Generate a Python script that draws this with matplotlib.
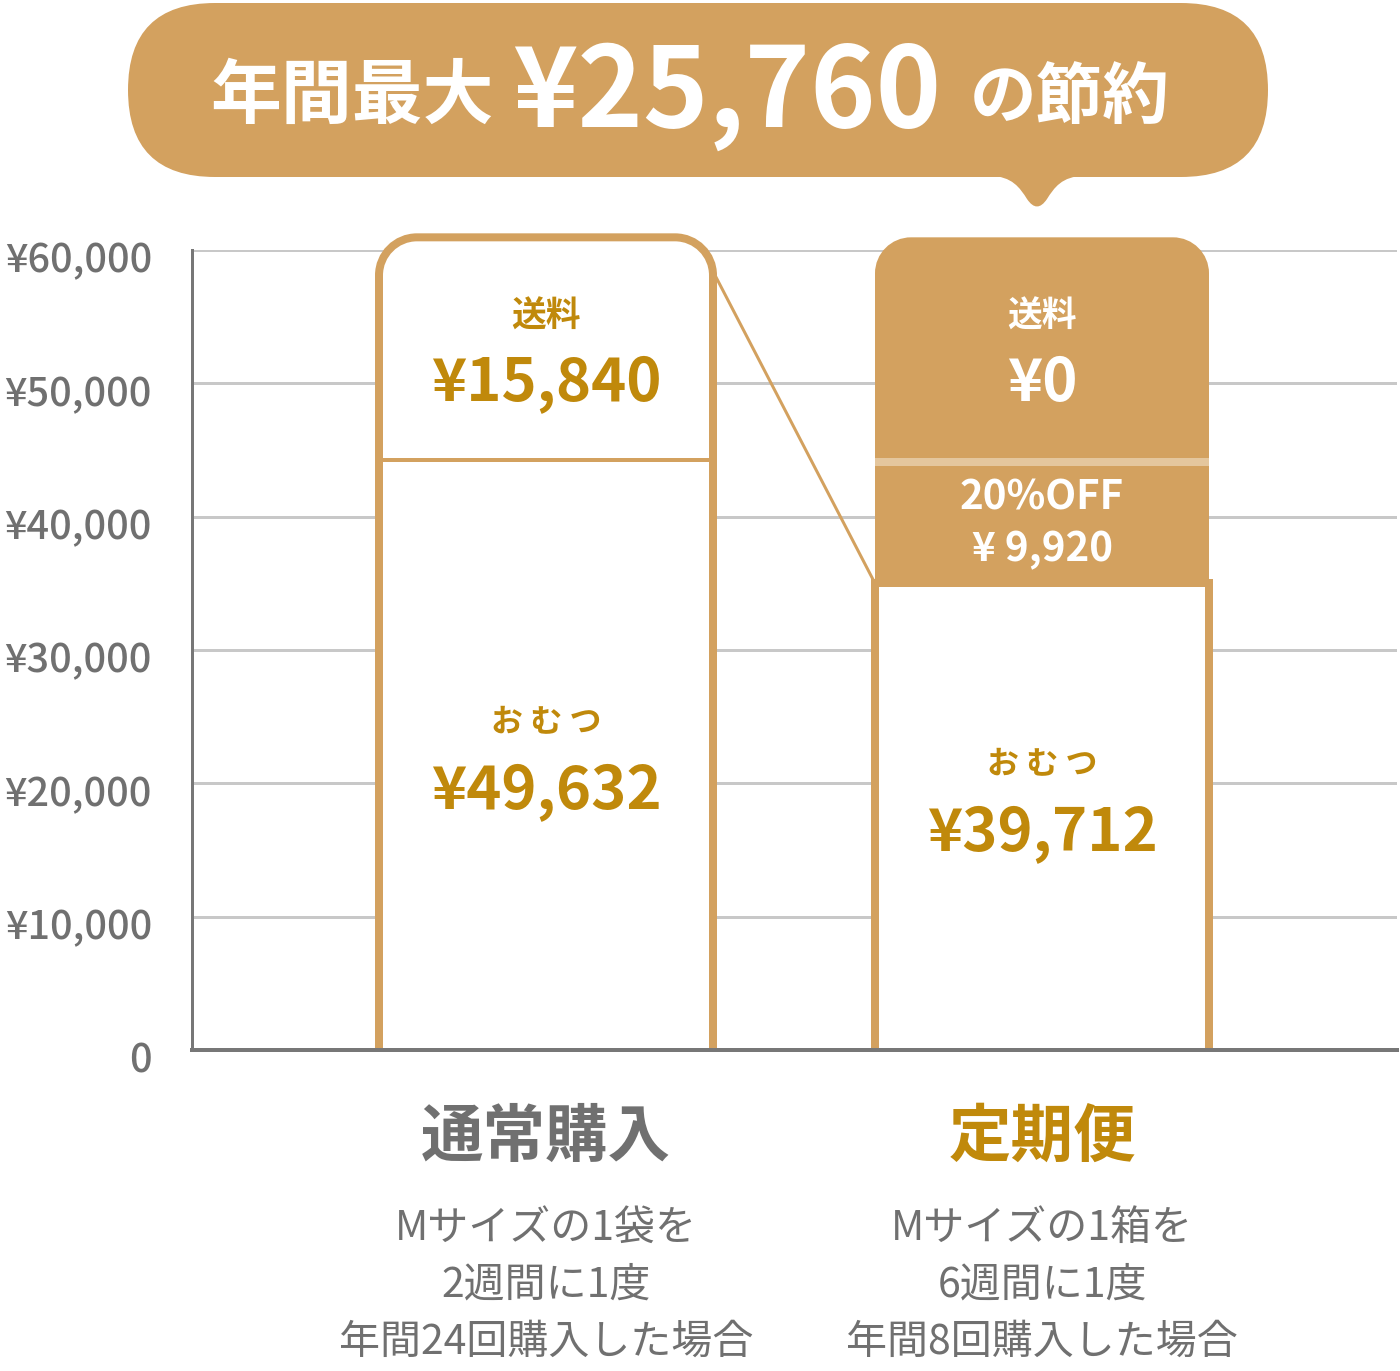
import matplotlib
matplotlib.use('Agg')
import matplotlib.pyplot as plt
from matplotlib.path import Path
from matplotlib.patches import PathPatch, FancyBboxPatch
from matplotlib.transforms import ScaledTranslation

plt.rcParams['font.family'] = ['Noto Sans CJK JP', 'DejaVu Sans']

# ---- data ----
categories = ['通常購入', '定期便']
category_notes = [['Mサイズの1袋を', '2週間に1度', '年間24回購入した場合'],
                  ['Mサイズの1箱を', '6週間に1度', '年間8回購入した場合']]
y_ticks = [0, 10000, 20000, 30000, 40000, 50000, 60000]
y_tick_labels = ['0', '¥10,000', '¥20,000', '¥30,000', '¥40,000', '¥50,000', '¥60,000']
# segment heights as drawn against the axis (the picture is not to scale)
regular_heights = [44250, 16700]               # diaper, shipping
subscription_heights = [35000, 9100, 16850]    # diaper, discount, shipping
regular_labels = [('お む つ', '¥49,632'), ('送料', '¥15,840')]
subscription_labels = [('お む つ', '¥39,712'), ('20%OFF', '¥ 9,920'), ('送料', '¥0')]
headline = ['年間最大', '¥25,760', 'の節約']

GOLD = '#d3a15f'
GOLD_TEXT = '#c0890b'
LIGHT = '#e4c69d'
GRAY = '#707070'
PX = 0.72  # points per pixel at dpi 100

fig = plt.figure(figsize=(14, 13.71), dpi=100)
W, H = 1400, 1371
ax = fig.add_axes([192 / W, (H - 1050) / H, (1397 - 192) / W, 800 / H])
ax.set_ylim(0, 60000)
ax.set_xlim(-354 / 496, (1205 - 354) / 496)

sx = ax.transData.transform((1, 0))[0] - ax.transData.transform((0, 0))[0]
sy = ax.transData.transform((0, 1))[1] - ax.transData.transform((0, 0))[1]


def rounded_top(x0, x1, y0, y1, r):
    rx, ry = r / sx, r / sy
    k = 0.5523
    verts = [(x0, y0), (x0, y1 - ry),
             (x0, y1 - ry + k * ry), (x0 + rx - k * rx, y1), (x0 + rx, y1),
             (x1 - rx, y1),
             (x1 - rx + k * rx, y1), (x1, y1 - ry + k * ry), (x1, y1 - ry),
             (x1, y0)]
    codes = [Path.MOVETO, Path.LINETO, Path.CURVE4, Path.CURVE4, Path.CURVE4,
             Path.LINETO, Path.CURVE4, Path.CURVE4, Path.CURVE4, Path.LINETO]
    return Path(verts, codes)


ax.set_yticks(y_ticks)
ax.set_yticklabels(y_tick_labels, fontweight='medium')
ax.set_xticks([])
ax.tick_params(axis='y', length=0, pad=40 * PX, labelsize=28.5, labelcolor=GRAY)
for lab in ax.get_yticklabels():
    lab.set_transform(lab.get_transform() + ScaledTranslation(0, -7 / 100, fig.dpi_scale_trans))
ax.yaxis.grid(True, color='#c8c8c8', lw=3 * PX)
ax.set_axisbelow(True)
for s in ['top', 'right']:
    ax.spines[s].set_visible(False)
ax.spines['left'].set_color('#777777')
ax.spines['left'].set_linewidth(3 * PX)
ax.spines['bottom'].set_color('#777777')
ax.spines['bottom'].set_linewidth(4 * PX)
ax.spines['bottom'].set_zorder(6)
ax.spines['left'].set_zorder(6)

w = 334 / 496

# regular purchase bar
x0, x1 = 0 - w / 2, 0 + w / 2
total1 = sum(regular_heights)
ax.add_patch(PathPatch(rounded_top(x0, x1, 0, total1, 38), facecolor='white',
                       edgecolor=GOLD, lw=8 * PX, clip_on=False, zorder=2))
ax.plot([x0, x1], [regular_heights[0]] * 2, color=GOLD, lw=4 * PX,
        solid_capstyle='butt', zorder=2)

# subscription bar
b0, b1 = 1 - w / 2, 1 + w / 2
base = subscription_heights[0]
total2 = sum(subscription_heights)
ax.add_patch(PathPatch(rounded_top(b0, b1, base, total2, 36), facecolor=GOLD,
                       edgecolor='none', clip_on=False, zorder=2))
ax.plot([b0, b1], [base + subscription_heights[1]] * 2, color=LIGHT, lw=8 * PX,
        solid_capstyle='butt', zorder=2.5)
ax.add_patch(PathPatch(Path([(b0, 0), (b0, base), (b1, base), (b1, 0)]),
                       facecolor='white', edgecolor=GOLD, lw=8 * PX, zorder=3))

# connector between the two bars
ax.plot([x1, b0], [total1 - 34 / sy, base], color=GOLD, lw=3 * PX, zorder=1.5, clip_on=False)


def seg_label(x, top, off_px, text, size, color):
    ax.annotate(text, xy=(x, top), xytext=(0, -off_px * PX), textcoords='offset points',
                ha='center', va='center', fontsize=size, fontweight='bold', color=color,
                annotation_clip=False, zorder=7)


seg_label(0, regular_heights[0], 263, regular_labels[0][0], 23, GOLD_TEXT)
seg_label(0, regular_heights[0], 332, regular_labels[0][1], 43, GOLD_TEXT)
seg_label(0, total1, 79, regular_labels[1][0], 25, GOLD_TEXT)
seg_label(0, total1, 147, regular_labels[1][1], 43, GOLD_TEXT)

seg_label(1, base, 182, subscription_labels[0][0], 23, GOLD_TEXT)
seg_label(1, base, 251, subscription_labels[0][1], 43, GOLD_TEXT)
disc_top = base + subscription_heights[1]
seg_label(1, disc_top, 36, subscription_labels[1][0], 29, 'white')
seg_label(1, disc_top, 88, subscription_labels[1][1], 29, 'white')
seg_label(1, total2, 79, subscription_labels[2][0], 25, 'white')
seg_label(1, total2, 147, subscription_labels[2][1], 43, 'white')

# category names and notes under the axis
cat_colors = [GRAY, GOLD_TEXT]
for i, name in enumerate(categories):
    ax.annotate(name, xy=(i, 0), xytext=(0, -87 * PX), textcoords='offset points',
                ha='center', va='center', fontsize=45, fontweight='bold',
                color=cat_colors[i], annotation_clip=False)
    for j, note in enumerate(category_notes[i]):
        ax.annotate(note, xy=(i, 0), xytext=(0, -(178 + 57 * j) * PX),
                    textcoords='offset points', ha='center', va='center',
                    fontsize=29.5, color=GRAY, annotation_clip=False)

# headline bubble
ov = fig.add_axes([0, 0, 1, 1], zorder=-1)
ov.set_xlim(0, W)
ov.set_ylim(H, 0)
ov.axis('off')
ov.add_patch(FancyBboxPatch((128, 3), 1140, 174, boxstyle='round,pad=0,rounding_size=87',
                            facecolor=GOLD, edgecolor='none'))
tail = Path([(990, 170), (990, 176), (1012, 176), (1020, 188), (1027, 199),
             (1037, 214), (1047, 199),
             (1054, 188), (1062, 176), (1084, 176), (1084, 170), (990, 170)],
            [Path.MOVETO, Path.LINETO, Path.CURVE4, Path.CURVE4, Path.CURVE4,
             Path.CURVE3, Path.CURVE3,
             Path.CURVE4, Path.CURVE4, Path.CURVE4, Path.LINETO, Path.CLOSEPOLY])
ov.add_patch(PathPatch(tail, facecolor=GOLD, edgecolor='none'))
ov.text(352, 97, headline[0], ha='center', va='center', fontsize=51,
        fontweight='bold', color='white')
ov.text(727, 95, headline[1], ha='center', va='center', fontsize=80,
        fontweight='bold', color='white')
ov.text(1070, 98, headline[2], ha='center', va='center', fontsize=48,
        fontweight='bold', color='white')

fig.savefig('out.png', dpi=100)
